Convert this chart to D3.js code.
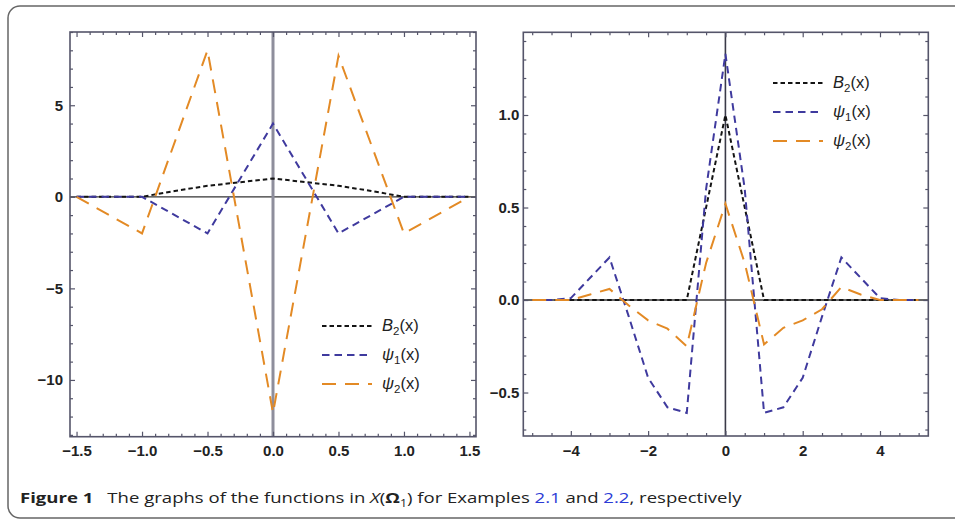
<!DOCTYPE html>
<html>
<head>
<meta charset="utf-8">
<script src="https://cdn.jsdelivr.net/npm/d3@7"></script>
<style>
  body { margin: 0; background: #fff; }
  svg { display: block; }
</style>
</head>
<body>
<svg id="chart" width="955" height="524"></svg>
<script>
// ---- data: Example 2.1 (left panel) ----
var b2X1  = [-1.5, -1, -0.75, -0.5, -0.25, 0, 0.25, 0.5, 0.75, 1, 1.5];
var b2Y1  = [0, 0, 0.32, 0.6, 0.8, 1, 0.8, 0.6, 0.32, 0, 0];
var psiX1 = [-1.5, -1, -0.5, 0, 0.5, 1, 1.5];
var psi1Y1 = [0, 0, -2, 4, -2, 0, 0];
var psi2Y1 = [0, -2, 8, -11.8, 7.7, -2, 0];

// ---- data: Example 2.2 (right panel) ----
var xs2   = [-5, -4.5, -4, -3.5, -3, -2.5, -2, -1.5, -1, -0.5, 0, 0.5, 1, 1.5, 2, 2.5, 3, 3.5, 4, 4.5, 5];
var b2Y2  = [0, 0, 0, 0, 0, 0, 0, 0, 0, 0.5, 1, 0.5, 0, 0, 0, 0, 0, 0, 0, 0, 0];
var psi1Y2 = [0, 0, 0.01, 0.12, 0.23, -0.09, -0.42, -0.58, -0.61, 0.6, 1.33, 0.6, -0.61, -0.58, -0.42, -0.09, 0.23, 0.12, 0.01, 0, 0];
var psi2Y2 = [0, 0, 0, 0.03, 0.06, -0.03, -0.11, -0.155, -0.25, 0.2, 0.52, 0.2, -0.24, -0.15, -0.11, -0.05, 0.07, 0.03, 0, 0, 0];

// tick values
var xMajor1 = [-1.5, -1, -0.5, 0, 0.5, 1, 1.5];
var yMajor1 = [-10, -5, 0, 5];
var xMajor2 = [-4, -2, 0, 2, 4];
var yMajor2 = [-0.5, 0, 0.5, 1];

var legendNames = [["B", "2"], ["\u03C8", "1"], ["\u03C8", "2"]];
var colors = ["#141414", "#3f3a9e", "#e38a25"];
var dashes = ["4.5,3", "7.5,5", "14,9"];

var svg = d3.select("#chart");

// card
svg.append("rect")
  .attr("x", 8).attr("y", 6).attr("width", 990).attr("height", 512)
  .attr("rx", 12)
  .attr("fill", "#fff").attr("stroke", "#666").attr("stroke-width", 1.5);

function range(a, b, step) {
  var out = [];
  for (var v = a; v <= b + 1e-9; v += step) out.push(Math.round(v * 1000) / 1000);
  return out;
}

function drawPanel(cfg) {
  var x = d3.scaleLinear().domain(cfg.xDomain).range([cfg.left, cfg.right]);
  var y = d3.scaleLinear().domain(cfg.yDomain).range([cfg.bottom, cfg.top]);
  var g = svg.append("g");
  var frameColor = "#55556a";

  var clipId = "clip" + cfg.id;
  g.append("clipPath").attr("id", clipId).append("rect")
    .attr("x", cfg.left).attr("y", cfg.top)
    .attr("width", cfg.right - cfg.left).attr("height", cfg.bottom - cfg.top);

  // zero axes
  g.append("line")
    .attr("x1", cfg.left).attr("x2", cfg.right)
    .attr("y1", y(0)).attr("y2", y(0))
    .attr("stroke", "#333").attr("stroke-width", 1.3);
  g.append("line")
    .attr("x1", x(0)).attr("x2", x(0))
    .attr("y1", cfg.top).attr("y2", cfg.bottom)
    .attr("stroke", cfg.vAxisColor).attr("stroke-width", cfg.vAxisWidth);

  // ticks on all four sides
  function addAxis(axis, tx, ty, labels) {
    var a = g.append("g").attr("transform", "translate(" + tx + "," + ty + ")").call(axis);
    a.select(".domain").remove();
    a.selectAll(".tick line").attr("stroke", frameColor).attr("stroke-width", 1.2);
    if (!labels) a.selectAll(".tick text").remove();
    a.selectAll(".tick text")
      .style("font-family", "'Liberation Sans', Arial, sans-serif")
      .style("font-size", "15px")
      .style("font-weight", "bold")
      .attr("fill", "#222");
    return a;
  }
  var xMinor = cfg.xMinor.filter(function(v) { return cfg.xMajor.indexOf(v) < 0; });
  var yMinor = cfg.yMinor.filter(function(v) { return cfg.yMajor.indexOf(v) < 0; });

  addAxis(d3.axisBottom(x).tickValues(cfg.xMajor).tickSize(-5).tickPadding(9).tickFormat(cfg.xFormat), 0, cfg.bottom, true);
  addAxis(d3.axisBottom(x).tickValues(xMinor).tickSize(-3), 0, cfg.bottom, false);
  addAxis(d3.axisTop(x).tickValues(cfg.xMajor).tickSize(-5), 0, cfg.top, false);
  addAxis(d3.axisTop(x).tickValues(xMinor).tickSize(-3), 0, cfg.top, false);
  addAxis(d3.axisLeft(y).tickValues(cfg.yMajor).tickSize(-5).tickPadding(cfg.yPad).tickFormat(cfg.yFormat), cfg.left, 0, true);
  addAxis(d3.axisLeft(y).tickValues(yMinor).tickSize(-3), cfg.left, 0, false);
  addAxis(d3.axisRight(y).tickValues(cfg.yMajor).tickSize(-5), cfg.right, 0, false);
  addAxis(d3.axisRight(y).tickValues(yMinor).tickSize(-3), cfg.right, 0, false);

  // curves
  var line = d3.line().x(function(d) { return x(d[0]); }).y(function(d) { return y(d[1]); });
  var curves = g.append("g").attr("clip-path", "url(#" + clipId + ")");
  cfg.series.forEach(function(s, i) {
    var pts = d3.zip(s.xs, s.ys);
    curves.append("path")
      .attr("d", line(pts))
      .attr("fill", "none")
      .attr("stroke", colors[i])
      .attr("stroke-width", 2)
      .attr("stroke-dasharray", dashes[i]);
  });

  // frame
  g.append("rect")
    .attr("x", cfg.left).attr("y", cfg.top)
    .attr("width", cfg.right - cfg.left).attr("height", cfg.bottom - cfg.top)
    .attr("fill", "none").attr("stroke", frameColor).attr("stroke-width", 1.6);

  // legend
  var lg = g.append("g").attr("transform", "translate(" + cfg.legX + "," + cfg.legY + ")");
  legendNames.forEach(function(n, i) {
    var yy = i * 29;
    lg.append("line")
      .attr("x1", 0).attr("x2", 50).attr("y1", yy).attr("y2", yy)
      .attr("stroke", colors[i]).attr("stroke-width", 2)
      .attr("stroke-dasharray", dashes[i]);
    var t = lg.append("text").attr("x", 60).attr("y", yy + 5)
      .style("font-family", "'Liberation Sans', Arial, sans-serif")
      .style("font-size", "16.5px")
      .attr("fill", "#222");
    t.append("tspan").attr("font-style", "italic").text(n[0]);
    t.append("tspan").attr("dy", 4).style("font-size", "11.5px").text(n[1]);
    t.append("tspan").attr("dy", -4).text("(x)");
  });
}

drawPanel({
  id: 1,
  left: 70, right: 476, top: 32, bottom: 436.7,
  xDomain: [-1.55, 1.55], yDomain: [-13.1, 9.0],
  xMajor: xMajor1, xMinor: range(-1.5, 1.5, 0.1),
  yMajor: yMajor1, yMinor: range(-13, 9, 1),
  xFormat: d3.format(".1f"), yFormat: d3.format("d"),
  yPad: 7,
  vAxisColor: "#8e8e9c", vAxisWidth: 3,
  legX: 322, legY: 326,
  series: [
    { xs: b2X1, ys: b2Y1 },
    { xs: psiX1, ys: psi1Y1 },
    { xs: psiX1, ys: psi2Y1 }
  ]
});

drawPanel({
  id: 2,
  left: 523.3, right: 928.3, top: 32.3, bottom: 436,
  xDomain: [-5.23, 5.25], yDomain: [-0.735, 1.447],
  xMajor: xMajor2, xMinor: range(-5, 5, 0.5),
  yMajor: yMajor2, yMinor: range(-0.7, 1.4, 0.1),
  xFormat: d3.format("d"), yFormat: d3.format(".1f"),
  yPad: 4,
  vAxisColor: "#3a3a48", vAxisWidth: 1.6,
  legX: 773, legY: 83,
  series: [
    { xs: xs2, ys: b2Y2 },
    { xs: xs2, ys: psi1Y2 },
    { xs: xs2, ys: psi2Y2 }
  ]
});

// caption
var cap = svg.append("text")
  .attr("x", 20).attr("y", 503)
  .style("font-family", "'Open Sans', 'Noto Sans', sans-serif")
  .style("font-size", "15px")
  .attr("fill", "#222");
cap.append("tspan").attr("font-weight", "bold").text("Figure 1");
cap.append("tspan").text("\u2002 The graphs of the functions in ");
cap.append("tspan").attr("font-style", "italic").text("X");
cap.append("tspan").text("(");
cap.append("tspan").attr("font-weight", "bold").text("\u03A9");
cap.append("tspan").attr("dy", 4).style("font-size", "10px").text("1");
cap.append("tspan").attr("dy", -4).text(") for Examples ");
cap.append("tspan").attr("fill", "#2b3bd6").text("2.1");
cap.append("tspan").text(" and ");
cap.append("tspan").attr("fill", "#2b3bd6").text("2.2");
cap.append("tspan").text(", respectively");
// squeeze to the condensed width of the original caption
var capW = cap.node().getComputedTextLength();
var sx = 722 / capW;
cap.attr("transform", "translate(20,0) scale(" + sx + ",1) translate(-20,0)");
</script>
</body>
</html>
